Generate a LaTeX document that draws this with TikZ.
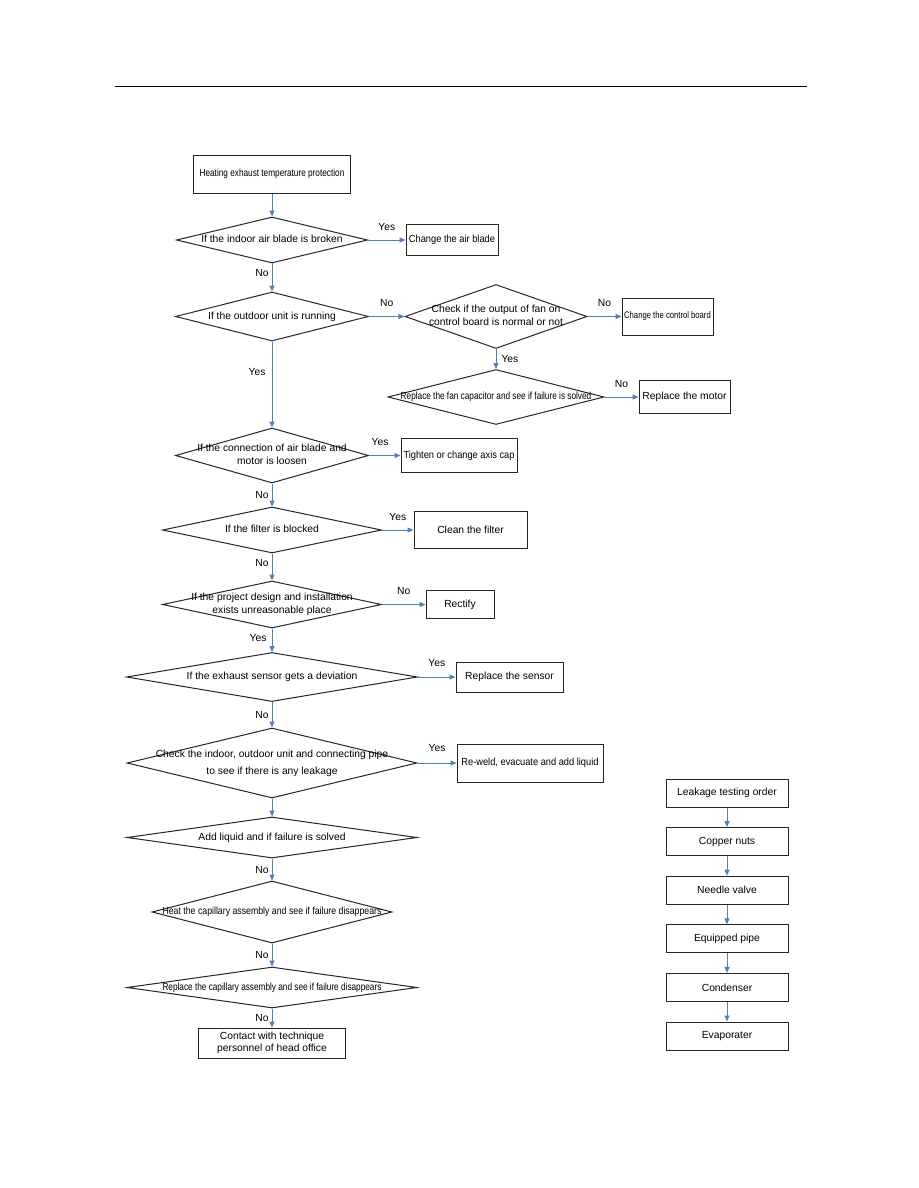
\documentclass[tikz,border=0pt]{standalone}
\usepackage{fontspec}
\setmainfont{Liberation Sans}
\newfontfamily\narrowfont[FakeStretch=0.8]{Liberation Sans}
\newfontfamily\heatfont[FakeStretch=0.85]{Liberation Sans}
\newfontfamily\semifont[FakeStretch=0.9]{Liberation Sans}
\usetikzlibrary{positioning,arrows.meta,shapes.geometric}
\definecolor{flowblue}{RGB}{79,129,189}
\newcommand\dtext[1]{\makebox[0pt]{\begin{tabular}{@{}c@{}}#1\end{tabular}}}

\begin{document}
\begin{tikzpicture}[x=1pt, y=-1pt, font=\fontsize{10.3}{13}\selectfont,
  box/.style={draw=black!85, line width=1pt, inner sep=1pt, align=center},
  dec/.style={draw=black!85, diamond, line width=1pt, inner sep=0pt},
  arr/.style={-{Triangle[length=6pt, width=5pt]}, flowblue, line width=1pt},
  lbl/.style={text=black, inner sep=2pt}]
\path[fill=white] (0,0) rectangle (918,1188);
\draw[line width=1.2pt] (115,86.5) -- (807,86.5);
% main flow
\node[box, minimum width=157pt, minimum height=38pt] (start) at (272,174) {\narrowfont Heating exhaust temperature protection};
\node[dec, minimum width=191pt, minimum height=46pt] (blade) at (272,240) {\dtext{If the indoor air blade is broken}};
\node[box, minimum width=92pt, minimum height=31pt] (newblade) at (452,240) {\semifont Change the air blade};
\node[dec, minimum width=193pt, minimum height=49pt] (outdoor) at (272,316.5) {\dtext{If the outdoor unit is running}};
\node[dec, minimum width=182pt, minimum height=64pt] (fanout) at (496,316.5) {\dtext{Check if the output of fan on\\control board is normal or not}};
\node[box, minimum width=91pt, minimum height=37pt] (board) at (667.5,316.5) {\fontsize{9.6}{12}\narrowfont Change the control board};
\node[dec, minimum width=216pt, minimum height=55pt] (capac) at (496,397) {\dtext{\narrowfont Replace the fan capacitor and see if failure is solved}};
\node[box, minimum width=91pt, minimum height=33pt] (motor) at (684.5,397) {Replace the motor};
\node[dec, minimum width=193pt, minimum height=55pt] (loose) at (272,455.5) {\dtext{If the connection of air blade and\\motor is loosen}};
\node[box, minimum width=116pt, minimum height=34pt] (axis) at (459,455.5) {\semifont Tighten or change axis cap};
\node[dec, minimum width=219pt, minimum height=46pt] (filter) at (272,530) {\dtext{If the filter is blocked}};
\node[box, minimum width=113pt, minimum height=37pt] (clean) at (470.5,530) {Clean the filter};
\node[dec, minimum width=219pt, minimum height=47pt] (design) at (272,604.5) {\dtext{If the project design and installation\\exists unreasonable place}};
\node[box, minimum width=68pt, minimum height=28pt] (rectify) at (460,604.5) {Rectify};
\node[dec, minimum width=291pt, minimum height=49pt] (sensor) at (272,677) {\dtext{If the exhaust sensor gets a deviation}};
\node[box, minimum width=107pt, minimum height=30pt] (newsensor) at (509.5,677) {Replace the sensor};
\node[dec, minimum width=290pt, minimum height=70pt] (leak) at (272,763) {\dtext{Check the indoor, outdoor unit and connecting pipe\\[4pt]to see if there is any leakage}};
\node[box, minimum width=146pt, minimum height=38pt] (reweld) at (530,763) {\semifont Re-weld, evacuate and add liquid};
\node[dec, minimum width=290pt, minimum height=41pt] (addliq) at (272,837.5) {\dtext{Add liquid and if failure is solved}};
\node[dec, minimum width=240pt, minimum height=62pt] (heat) at (272,912) {\dtext{\heatfont Heat the capillary assembly and see if failure disappears}};
\node[dec, minimum width=290pt, minimum height=41pt] (capil) at (272,987.5) {\dtext{\narrowfont Replace the capillary assembly and see if failure disappears}};
\node[box, minimum width=147pt, minimum height=30pt] (contact) at (272,1043) {Contact with technique\\[-1pt]personnel of head office};
\draw[arr] (start) -- (blade);
\draw[arr] (blade) -- node[lbl, above=7pt] {Yes} (newblade);
\draw[arr] (blade) -- node[lbl, left=1pt, pos=.35] {No} (outdoor);
\draw[arr] (outdoor) -- node[lbl, above=7pt] {No} (fanout);
\draw[arr] (fanout) -- node[lbl, above=7pt] {No} (board);
\draw[arr] (fanout) -- node[lbl, right=3pt] {Yes} (capac);
\draw[arr] (capac) -- node[lbl, above=7pt] {No} (motor);
\draw[arr] (outdoor) -- node[lbl, left=4pt, pos=.36] {Yes} (loose);
\draw[arr] (loose) -- node[lbl, above=7pt, pos=.35] {Yes} (axis);
\draw[arr] (loose) -- node[lbl, left=1pt] {No} (filter);
\draw[arr] (filter) -- node[lbl, above=7pt] {Yes} (clean);
\draw[arr] (filter) -- node[lbl, left=1pt, pos=.35] {No} (design);
\draw[arr] (design) -- node[lbl, above=7pt] {No} (rectify);
\draw[arr] (design) -- node[lbl, left=3pt, pos=.4] {Yes} (sensor);
\draw[arr] (sensor) -- node[lbl, above=8pt] {Yes} (newsensor);
\draw[arr] (sensor) -- node[lbl, left=1pt] {No} (leak);
\draw[arr] (leak) -- node[lbl, above=9pt] {Yes} (reweld);
\draw[arr] (leak) -- (addliq);
\draw[arr] (addliq) -- node[lbl, left=1pt] {No} (heat);
\draw[arr] (heat) -- node[lbl, left=1pt] {No} (capil);
\draw[arr] (capil) -- node[lbl, left=1pt] {No} (contact);
% leakage testing order
\node[box, minimum width=122pt, minimum height=28pt] (o1) at (727,793) {Leakage testing order};
\node[box, minimum width=122pt, minimum height=28pt, below=19.6pt of o1] (o2) {Copper nuts};
\node[box, minimum width=122pt, minimum height=28pt, below=19.6pt of o2] (o3) {Needle valve};
\node[box, minimum width=122pt, minimum height=28pt, below=19.6pt of o3] (o4) {Equipped pipe};
\node[box, minimum width=122pt, minimum height=28pt, below=19.6pt of o4] (o5) {Condenser};
\node[box, minimum width=122pt, minimum height=28pt, below=19.6pt of o5] (o6) {Evaporater};
\foreach \a/\b in {o1/o2, o2/o3, o3/o4, o4/o5, o5/o6} \draw[arr] (\a) -- (\b);
\useasboundingbox (0,0) rectangle (918,1188);
\end{tikzpicture}
\end{document}
